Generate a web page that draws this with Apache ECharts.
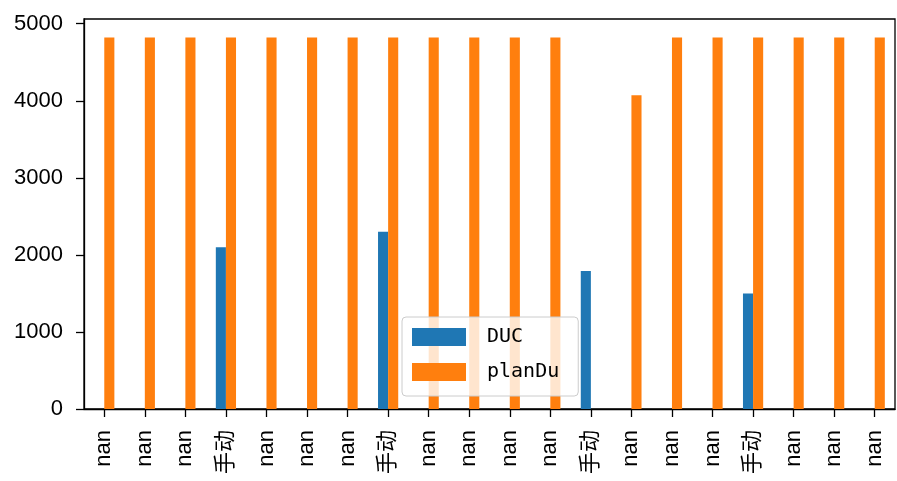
<!DOCTYPE html>
<html>
<head>
<meta charset="utf-8">
<script src="https://cdn.jsdelivr.net/npm/echarts@6/dist/echarts.min.js"></script>
<style>
  html, body { margin: 0; padding: 0; background: #fff; }
  #chart { width: 897px; height: 481px; }
</style>
</head>
<body>
<div id="chart"></div>
<script>
// x categories (tick labels as printed)
var categories = ['nan', 'nan', 'nan', '手动', 'nan', 'nan', 'nan', '手动', 'nan', 'nan',
                  'nan', 'nan', '手动', 'nan', 'nan', 'nan', '手动', 'nan', 'nan', 'nan'];
// DUC values (null = nan)
var ducValues = [null, null, null, 2100, null, null, null, 2300, null, null,
                 null, null, 1790, null, null, null, 1500, null, null, null];
// planDu values
var planDuValues = [4820, 4820, 4820, 4820, 4820, 4820, 4820, 4820, 4820, 4820,
                    4820, 4820, null, 4070, 4820, 4820, 4820, 4820, 4820, 4820];
var yTicks = [0, 1000, 2000, 3000, 4000, 5000];

var font = 'Liberation Sans, Noto Sans CJK SC, sans-serif';

var chart = echarts.init(document.getElementById('chart'), null, { renderer: 'canvas' });
chart.setOption({
  animation: false,
  backgroundColor: '#fff',
  grid: {
    left: 84,
    right: 2,
    top: 19,
    bottom: 72,
    outerBoundsMode: 'none',
    show: true,
    borderColor: '#000',
    borderWidth: 1.3,
    backgroundColor: 'transparent'
  },
  legend: {
    orient: 'vertical',
    left: 402,
    top: 317,
    icon: 'rect',
    itemWidth: 54,
    itemHeight: 18,
    itemGap: 15,
    padding: [10, 19, 14, 10],
    backgroundColor: 'rgba(255,255,255,0.8)',
    borderColor: '#cccccc',
    borderWidth: 1,
    borderRadius: 4,
    textStyle: {
      fontFamily: 'DejaVu Sans Mono, monospace',
      fontSize: 20,
      color: '#000',
      padding: [0, 0, 0, 16]
    },
    data: ['DUC', 'planDu']
  },
  xAxis: {
    type: 'category',
    data: categories,
    axisLine: { show: true, lineStyle: { color: '#000', width: 1.3 } },
    axisTick: { show: true, alignWithLabel: true, length: 8, lineStyle: { color: '#000', width: 1.3 } },
    axisLabel: {
      rotate: 90,
      interval: 0,
      margin: 21,
      fontSize: 22,
      color: '#000',
      fontFamily: font
    }
  },
  yAxis: {
    type: 'value',
    min: 0,
    max: 5061,
    splitLine: { show: false },
    axisLine: { show: true, lineStyle: { color: '#000', width: 1.3 } },
    axisTick: { show: true, length: 8, customValues: yTicks, lineStyle: { color: '#000', width: 1.3 } },
    axisLabel: {
      customValues: yTicks,
      formatter: function (v) { return String(v); },
      margin: 21,
      fontSize: 22,
      color: '#000',
      fontFamily: font
    }
  },
  series: [
    {
      name: 'DUC',
      type: 'bar',
      data: ducValues,
      barWidth: 10.1,
      barGap: '0%',
      itemStyle: { color: '#1f77b4' }
    },
    {
      name: 'planDu',
      type: 'bar',
      data: planDuValues,
      barWidth: 10.1,
      barGap: '0%',
      itemStyle: { color: '#ff7f0e' }
    }
  ]
});
</script>
</body>
</html>
